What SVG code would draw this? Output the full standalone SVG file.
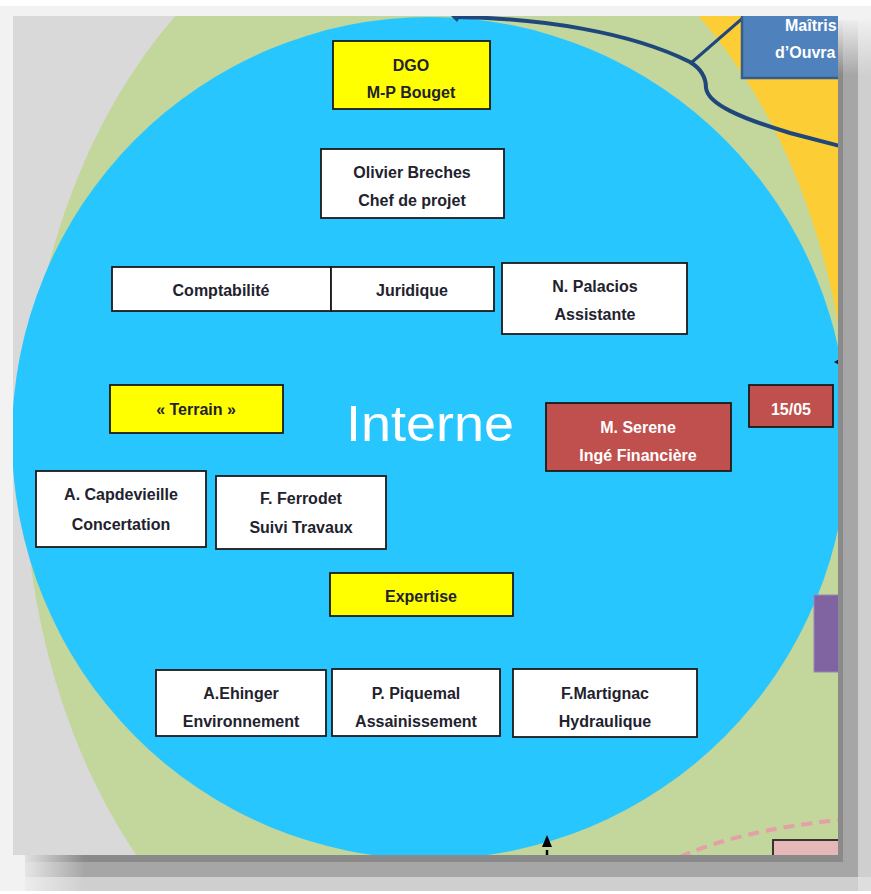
<svg xmlns="http://www.w3.org/2000/svg" width="871" height="894" viewBox="0 0 871 894">
<defs>
<style>
.box{stroke:#1a1a1a;stroke-width:1.8}
.w{fill:#ffffff}
.y{fill:#ffff00}
.r{fill:#c0504d}
.t{font-family:"Liberation Sans",Arial,sans-serif;font-size:16px;font-weight:bold;fill:#22222e;text-anchor:middle}
.tw{fill:#ffffff}
.navy{fill:none;stroke:#1f477c;stroke-linecap:round}
</style>
<clipPath id="c"><rect x="13" y="16" width="825" height="839"/></clipPath>
<linearGradient id="fadeV" x1="0" y1="16" x2="0" y2="75" gradientUnits="userSpaceOnUse">
<stop offset="0" stop-color="#f2f2f2" stop-opacity="1"/>
<stop offset="1" stop-color="#f2f2f2" stop-opacity="0"/>
</linearGradient>
<linearGradient id="fadeH" x1="13" y1="0" x2="85" y2="0" gradientUnits="userSpaceOnUse">
<stop offset="0" stop-color="#f2f2f2" stop-opacity="1"/>
<stop offset="1" stop-color="#f2f2f2" stop-opacity="0"/>
</linearGradient>
</defs>

<g id="frame">
<rect x="0" y="0" width="871" height="894" fill="#ffffff"/>
<rect x="0" y="6" width="871" height="885" fill="#f2f2f2"/>
<rect x="838" y="20" width="33" height="871" fill="#cfcfcf"/>
<rect x="838" y="20" width="20" height="857" fill="#a6a6a6"/>
<rect x="838" y="20" width="5" height="842" fill="#8a8a8a"/>
<rect x="25" y="855" width="846" height="36" fill="#cfcfcf"/>
<rect x="25" y="855" width="833" height="22" fill="#a6a6a6"/>
<rect x="25" y="855" width="818" height="7" fill="#8a8a8a"/>
<rect x="858" y="877" width="13" height="14" fill="#dedede"/>
<rect x="838" y="16" width="33" height="60" fill="url(#fadeV)"/>
<rect x="13" y="855" width="72" height="36" fill="url(#fadeH)"/>
</g>

<g id="background" clip-path="url(#c)">
<rect x="13" y="16" width="825" height="839" fill="#d9d9d9"/>
<rect x="560" y="0" width="300" height="340" fill="#fdcd35"/>
<rect x="560" y="330" width="300" height="540" fill="#c3d69b"/>
<ellipse cx="437" cy="461" rx="413" ry="575" fill="#c3d69b"/>
<ellipse cx="430" cy="438" rx="418" ry="421" fill="#28c6fe"/>
<rect x="814" y="595" width="30" height="77" fill="#8064a2" stroke="#9a86b8" stroke-width="1"/>
<path d="M680,857 Q740,830 840,820" fill="none" stroke="#e3a0a6" stroke-width="4" stroke-dasharray="11,7"/>
<rect x="773" y="840" width="80" height="30" fill="#e6b9b8" stroke="#262626" stroke-width="1.8"/>
</g>

<g id="connectors" clip-path="url(#c)">
<path class="navy" stroke-width="4" d="M455,17 C540,18 630,32 690,62 C700,68 706,76 706,88 C708,104 740,118 790,133 L840,146"/>
<path class="navy" stroke-width="3" d="M691,63 L745,16"/>
<polygon points="451,16 461,16 457,22" fill="#1f477c"/>
<polygon points="834,362 840,358.5 840,365.5" fill="#1a1a1a"/>
<polygon points="547,835 542,847 552,847" fill="#000000"/>
<line x1="547" y1="850" x2="547" y2="857" stroke="#000000" stroke-width="2.5"/>
</g>

<g id="maitrise" clip-path="url(#c)">
<rect x="742" y="8" width="110" height="70" fill="#4f81bd" stroke="#385d8a" stroke-width="2.5"/>
<text class="t tw" x="785" y="31" style="text-anchor:start">Maîtris</text>
<text class="t tw" x="775" y="58" style="text-anchor:start">d’Ouvra</text>
</g>

<g id="dgo">
<rect class="box y" x="333" y="41" width="157" height="68"/>
<text class="t" x="411" y="71">DGO</text>
<text class="t" x="411" y="98">M-P Bouget</text>
</g>

<g id="breches">
<rect class="box w" x="321" y="149" width="183" height="69"/>
<text class="t" x="412" y="178">Olivier Breches</text>
<text class="t" x="412" y="206">Chef de projet</text>
</g>

<g id="comptabilite">
<rect class="box w" x="112" y="267" width="219" height="44"/>
<text class="t" x="221" y="296">Comptabilité</text>
</g>

<g id="juridique">
<rect class="box w" x="331" y="267" width="163" height="44"/>
<text class="t" x="412" y="296">Juridique</text>
</g>

<g id="palacios">
<rect class="box w" x="502" y="263" width="185" height="71"/>
<text class="t" x="595" y="292">N. Palacios</text>
<text class="t" x="595" y="320">Assistante</text>
</g>

<g id="terrain">
<rect class="box y" x="110" y="385" width="173" height="48"/>
<text class="t" x="196" y="415">« Terrain »</text>
</g>

<g id="interne">
<text x="430" y="441" textLength="168" lengthAdjust="spacingAndGlyphs" style="font-family:'Liberation Sans',Arial,sans-serif;font-size:50px;fill:#ffffff;text-anchor:middle">Interne</text>
</g>

<g id="serene">
<rect class="box r" x="546" y="403" width="185" height="68"/>
<text class="t tw" x="638" y="433">M. Serene</text>
<text class="t tw" x="638" y="461">Ingé Financière</text>
</g>

<g id="date">
<rect class="box r" x="749" y="385" width="84" height="42"/>
<text class="t tw" x="791" y="415">15/05</text>
</g>

<g id="capdevieille">
<rect class="box w" x="36" y="471" width="170" height="76"/>
<text class="t" x="121" y="500">A. Capdevieille</text>
<text class="t" x="121" y="530">Concertation</text>
</g>

<g id="ferrodet">
<rect class="box w" x="216" y="476" width="170" height="73"/>
<text class="t" x="301" y="504">F. Ferrodet</text>
<text class="t" x="301" y="533">Suivi Travaux</text>
</g>

<g id="expertise">
<rect class="box y" x="330" y="573" width="183" height="43"/>
<text class="t" x="421" y="602">Expertise</text>
</g>

<g id="ehinger">
<rect class="box w" x="156" y="670" width="170" height="66"/>
<text class="t" x="241" y="699">A.Ehinger</text>
<text class="t" x="241" y="727">Environnement</text>
</g>

<g id="piquemal">
<rect class="box w" x="332" y="669" width="168" height="67"/>
<text class="t" x="416" y="699">P. Piquemal</text>
<text class="t" x="416" y="727">Assainissement</text>
</g>

<g id="martignac">
<rect class="box w" x="513" y="669" width="184" height="68"/>
<text class="t" x="605" y="699">F.Martignac</text>
<text class="t" x="605" y="727">Hydraulique</text>
</g>
</svg>
